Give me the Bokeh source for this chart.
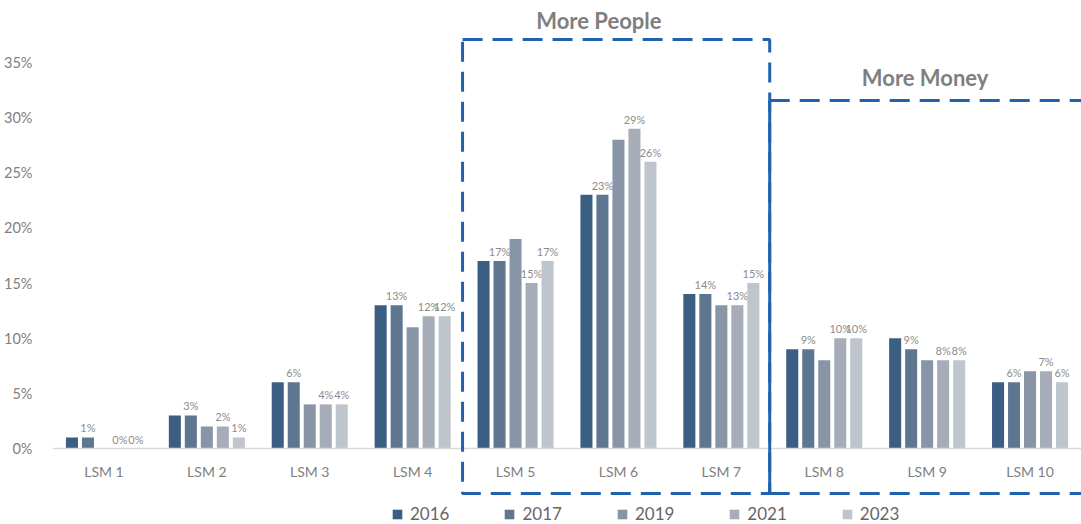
from bokeh.plotting import figure
from bokeh.models import (FactorRange, Range1d, FixedTicker, PrintfTickFormatter, Legend, LegendItem,
                          PolyAnnotation, Arrow, Label, ColumnDataSource, CategoricalAxis)
from bokeh.transform import dodge
from bokeh.core.properties import value
from bokeh.embed import file_html
from bokeh.resources import INLINE

categories = ["LSM 1", "LSM 2", "LSM 3", "LSM 4", "LSM 5", "LSM 6", "LSM 7", "LSM 8", "LSM 9", "LSM 10"]
years = ["2016", "2017", "2019", "2021", "2023"]
v2016 = [1, 3, 6, 13, 17, 23, 14, 9, 10, 6]
v2017 = [1, 3, 6, 13, 17, 23, 14, 9, 9, 6]
v2019 = [0, 2, 4, 11, 19, 28, 13, 8, 8, 7]
v2021 = [0, 2, 4, 12, 15, 29, 13, 10, 8, 7]
v2023 = [0, 1, 4, 12, 17, 26, 15, 10, 8, 6]
labelled_years = ["2017", "2021", "2023"]
y_ticks = [0, 5, 10, 15, 20, 25, 30, 35]
colors = ["#3b5f82", "#5f7691", "#8795a7", "#a6adb8", "#bfc5cd"]

series = dict(zip(years, [v2016, v2017, v2019, v2021, v2023]))
data = {"cat": categories}
for y in years:
    data["y" + y] = series[y]
    data["l" + y] = [f"{v}%" for v in series[y]]
src = ColumnDataSource(data)

FONT = "Lato"
GRAY = "#808080"

PX = 386 / 35  # pixels per percentage point
p = figure(width=1081, height=524,
           x_range=FactorRange(*categories, range_padding=0, factor_padding=0),
           y_range=Range1d(-(524 - 448) / PX, 448 / PX),
           x_axis_location=None,
           output_backend="svg", toolbar_location=None,
           min_border_left=52, min_border_right=0, min_border_top=0, min_border_bottom=0)
p.outline_line_color = None
p.xgrid.grid_line_color = None
p.ygrid.grid_line_color = None

xaxis = CategoricalAxis(fixed_location=0)
xaxis.axis_line_color = "#d9d9d9"
xaxis.axis_line_width = 1.5
xaxis.major_tick_line_color = None
xaxis.minor_tick_line_color = None
xaxis.major_label_standoff = 8
xaxis.major_label_text_font = FONT
xaxis.major_label_text_font_size = "14px"
xaxis.major_label_text_color = GRAY
p.add_layout(xaxis, "below")

step = 0.1555
offsets = [-2 * step, -step, 0, step, 2 * step]
items = []
for y, off, c in zip(years, offsets, colors):
    r = p.vbar(x=dodge("cat", off, range=p.x_range), top="y" + y, width=0.117, source=src,
               fill_color=c, line_color=None)
    items.append(LegendItem(label=y, renderers=[r]))
    if y in labelled_years:
        p.text(x=dodge("cat", off, range=p.x_range), y="y" + y, text="l" + y, source=src,
               text_align="center", text_baseline="bottom", y_offset=-3,
               text_font=value(FONT), text_font_size="11px", text_color="#8c8c8c")

p.yaxis.ticker = FixedTicker(ticks=y_ticks)
p.yaxis.formatter = PrintfTickFormatter(format="%d%%")
p.yaxis.axis_line_color = None
p.yaxis.major_tick_line_color = None
p.yaxis.minor_tick_line_color = None
p.yaxis.major_label_standoff = 14
p.yaxis.major_label_text_font = FONT
p.yaxis.major_label_text_font_size = "14.5px"
p.yaxis.major_label_text_color = GRAY

# annotation boxes
BLUE = "#1f62ad"
people = (3.985, 6.97)
money = (6.97, 10.2)
box_top, box_bottom, money_top = 37.08, -4.08, 31.55
p.add_layout(PolyAnnotation(xs=[people[0], people[1], people[1], people[0]],
                            ys=[box_top, box_top, box_bottom, box_bottom],
                            fill_alpha=0, line_alpha=1, line_color=BLUE, line_width=3,
                            line_dash="20 10"))
p.add_layout(Arrow(x_start=money[0], y_start=money_top, x_end=money[1], y_end=money_top, end=None,
                   line_color=BLUE, line_width=3, line_dash="20 10"))
p.add_layout(Arrow(x_start=money[0], y_start=box_bottom, x_end=money[1], y_end=box_bottom, end=None,
                   line_color=BLUE, line_width=3, line_dash="20 10"))
p.add_layout(Arrow(x_start=money[0], y_start=money_top, x_end=money[0], y_end=box_bottom, end=None,
                   line_color=BLUE, line_width=3))
p.add_layout(Label(x=5.31, y=38.8, text="More People", text_align="center", text_baseline="middle",
                   text_font=FONT, text_font_size="22px", text_font_style="bold", text_color="#7f7f7f"))
p.add_layout(Label(x=8.48, y=33.6, text="More Money", text_align="center", text_baseline="middle",
                   text_font=FONT, text_font_size="22px", text_font_style="bold", text_color="#7f7f7f"))

legend = Legend(items=items, orientation="horizontal", location=(339, 0),
                glyph_width=12, glyph_height=12, label_standoff=7, spacing=54,
                padding=0, margin=0, border_line_color=None, background_fill_alpha=0,
                label_text_font=FONT, label_text_font_size="17px", label_text_color="#666666",
                label_height=16)
p.add_layout(legend, "center")

open("out.html", "w").write(file_html(p, INLINE))
